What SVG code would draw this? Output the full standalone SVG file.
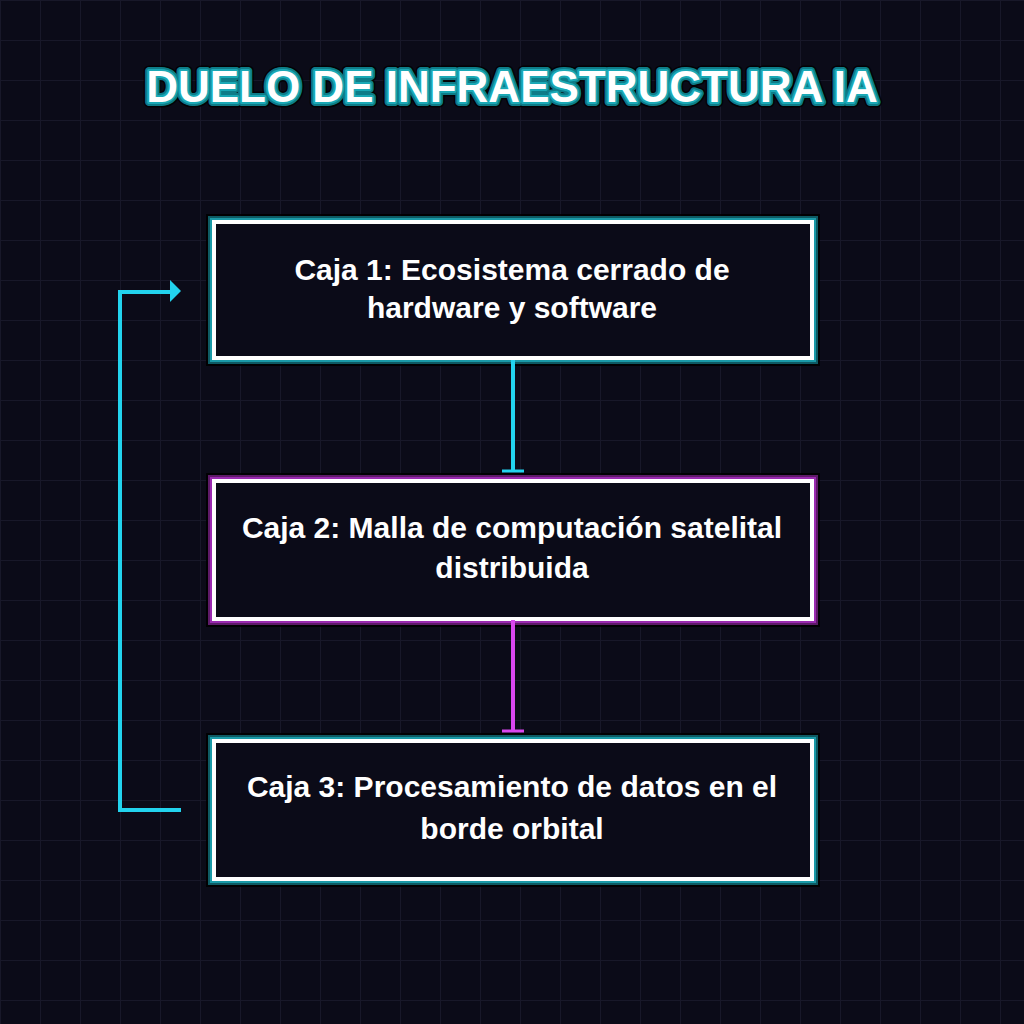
<svg xmlns="http://www.w3.org/2000/svg" width="1024" height="1024" viewBox="0 0 1024 1024">
<defs>
<pattern id="grid" width="40" height="40" patternUnits="userSpaceOnUse">
<path d="M40,0 H0 V40" fill="none" stroke="#181829" stroke-width="2"/>
</pattern>
</defs>
<style>
.bg{fill:#0b0b18}
.title{font-family:"Liberation Sans",Arial,sans-serif;font-weight:bold;font-size:44px;fill:#ffffff;stroke-linejoin:round;paint-order:stroke;text-anchor:middle}
.lbl{font-family:"Liberation Sans",Arial,sans-serif;font-weight:bold;font-size:30px;fill:#ffffff;text-anchor:middle}
.sh{fill:none;stroke:#000;stroke-width:16;stroke-opacity:0.85}
.g2c{fill:none;stroke:#0e5a63;stroke-width:12}
.g1c{fill:none;stroke:#1a9aa8;stroke-width:8}
.g2m{fill:none;stroke:#5e1a68;stroke-width:12}
.g1m{fill:none;stroke:#9a2ab0;stroke-width:8}
.box{fill:#0b0b18;stroke:#ffffff;stroke-width:4}
.ccy{fill:none;stroke:#22d3ee;stroke-width:4}
.cmg{fill:none;stroke:#d946ef;stroke-width:4}
</style>
<rect class="bg" width="1024" height="1024"/>
<rect width="1024" height="1024" fill="url(#grid)"/>
<g id="title">
<text x="512" y="102" class="title" stroke="#000" stroke-width="11" stroke-opacity="0.8">DUELO DE INFRAESTRUCTURA IA</text>
<text x="512" y="102" class="title" stroke="#0e7c88" stroke-width="8">DUELO DE INFRAESTRUCTURA IA</text>
<text x="512" y="102" class="title" stroke="#1aa8b5" stroke-width="4">DUELO DE INFRAESTRUCTURA IA</text>
</g>
<g id="node1">
<rect class="sh" x="214" y="222" width="598" height="136"/>
<rect class="g2c" x="214" y="222" width="598" height="136"/>
<rect class="g1c" x="214" y="222" width="598" height="136"/>
<rect class="box" x="214" y="222" width="598" height="136"/>
<text class="lbl" x="512" y="280">Caja 1: Ecosistema cerrado de</text>
<text class="lbl" x="512" y="318">hardware y software</text>
</g>
<g id="node2">
<rect class="sh" x="214" y="481" width="598" height="138"/>
<rect class="g2m" x="214" y="481" width="598" height="138"/>
<rect class="g1m" x="214" y="481" width="598" height="138"/>
<rect class="box" x="214" y="481" width="598" height="138"/>
<text class="lbl" x="512" y="538">Caja 2: Malla de computación satelital</text>
<text class="lbl" x="512" y="578">distribuida</text>
</g>
<g id="node3">
<rect class="sh" x="214" y="741" width="598" height="138"/>
<rect class="g2c" x="214" y="741" width="598" height="138"/>
<rect class="g1c" x="214" y="741" width="598" height="138"/>
<rect class="box" x="214" y="741" width="598" height="138"/>
<text class="lbl" x="512" y="797">Caja 3: Procesamiento de datos en el</text>
<text class="lbl" x="512" y="839">borde orbital</text>
</g>
<g id="connectors">
<path class="ccy" d="M513,360 V470"/>
<path d="M502,471 H524" stroke="#22d3ee" stroke-width="3"/>
<path class="cmg" d="M513,620 V731"/>
<path d="M502,731 H524" stroke="#d946ef" stroke-width="3"/>
<path class="ccy" d="M181,810 H120 V292 H172"/>
<path d="M170,280 L181,291 L170,302 Z" fill="#22d3ee"/>
</g>
</svg>
